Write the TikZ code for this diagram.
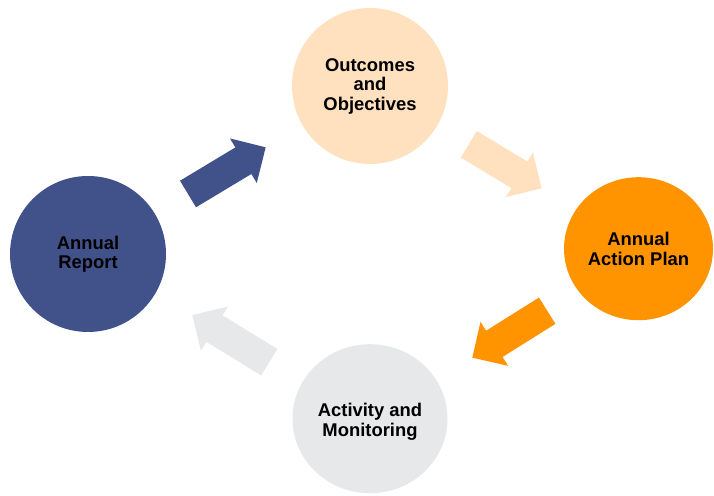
\documentclass[tikz,border=0pt]{standalone}
\usepackage{fontspec}
\setmainfont{Liberation Sans}
\usetikzlibrary{shapes.geometric}
\definecolor{peach}{HTML}{FFE0BF}
\definecolor{navy}{HTML}{41528A}
\definecolor{orng}{HTML}{FF9300}
\definecolor{lgray}{HTML}{E7E8EA}
\newcommand{\blockarrow}[4]{% tail mid, angle, length, colour
  \fill[#4, shift={#1}, rotate=#2]
    (0,-15.5) -- (#3-26,-15.5) -- (#3-26,-26) -- (#3,0) -- (#3-26,26) -- (#3-26,15.5) -- (0,15.5) -- cycle;}
\tikzset{
  stage/.style={ellipse, inner sep=0pt, align=center, text=black,
    font=\bfseries\fontsize{18.4}{19.5}\selectfont}
}
\begin{document}
\begin{tikzpicture}[x=1pt,y=1pt]
\useasboundingbox (0,0) rectangle (714,495);
\node[stage, fill=peach, minimum width=156pt, minimum height=156pt] (oo) at (370,409) {Outcomes\\and\\Objectives};
\node[stage, fill=orng, minimum width=149pt, minimum height=143pt] (ap) at (638.5,246.3) {Annual\\Action Plan};
\node[stage, fill=lgray, minimum width=155pt, minimum height=149pt] (am) at (370,76.3) {\raisebox{0pt}[\dimexpr\height+8pt\relax]{\begin{tabular}{@{}c@{}}Activity and\\Monitoring\end{tabular}}};
\node[stage, fill=navy, minimum width=156pt, minimum height=156pt] (ar) at (88,241) {Annual\\Report};
\blockarrow{(188,301)}{31}{90.6}{navy}
\blockarrow{(468.8,350.7)}{-31.1}{85.1}{peach}
\blockarrow{(547.2,184.3)}{212.1}{88.4}{orng}
\blockarrow{(269.3,132.8)}{148.5}{90.3}{lgray}
\end{tikzpicture}
\end{document}
